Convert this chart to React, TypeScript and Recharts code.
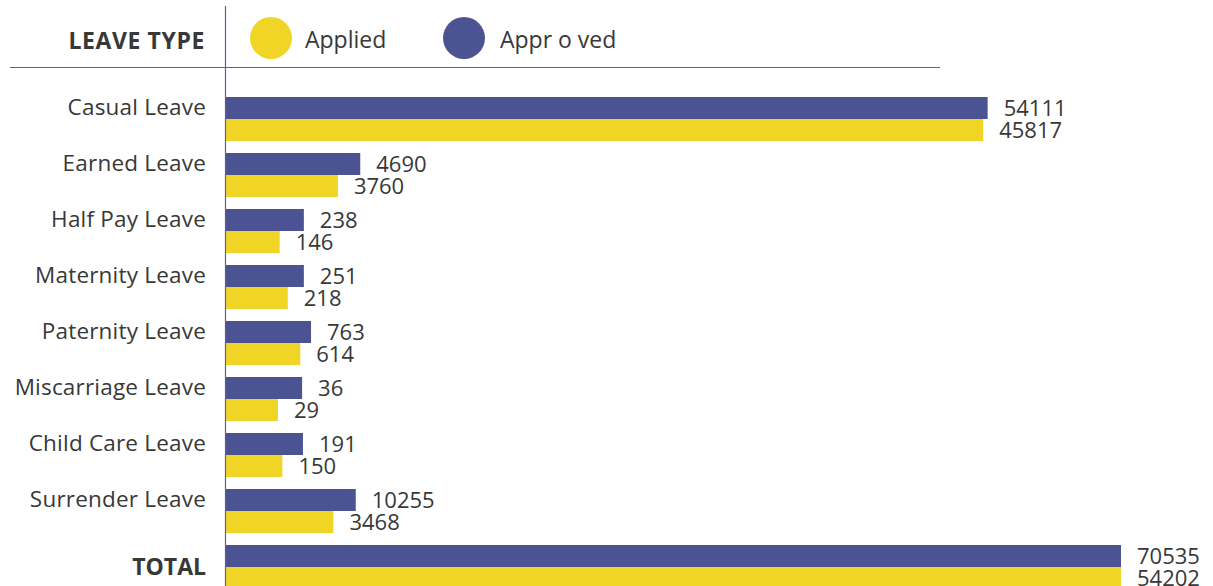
import React from 'react'
import { BarChart, Bar, XAxis, YAxis, LabelList } from 'recharts'

// leave types, top to bottom
const categories = [
    'Casual Leave',
    'Earned Leave',
    'Half Pay Leave',
    'Maternity Leave',
    'Paternity Leave',
    'Miscarriage Leave',
    'Child Care Leave',
    'Surrender Leave',
    'TOTAL',
]

// numbers printed next to the bars
const applied = [45817, 3760, 146, 218, 614, 29, 150, 3468, 54202]
const approved = [54111, 4690, 238, 251, 763, 36, 191, 10255, 70535]

// the original infographic is not drawn to scale, so bar lengths are read
// off the picture separately (% of the TOTAL bar)
const appliedLen = [84.6, 12.5, 6.0, 6.9, 8.3, 5.8, 6.3, 12.0, 100]
const approvedLen = [85.1, 15.0, 8.7, 8.7, 9.5, 8.5, 8.6, 14.5, 100]

const YELLOW = '#F0D426'
const BLUE = '#4C5393'
const TEXT = '#383838'
const LINE = '#5A5FA6'
const FONT = '"Open Sans", sans-serif'

const data = categories.map((name, i) => ({
    name,
    applied: applied[i],
    approved: approved[i],
    appliedLen: appliedLen[i],
    approvedLen: approvedLen[i],
}))

// category label: sits level with the blue bar, TOTAL is centred and bold
const CategoryTick = (props: any) => {
    const { x, y, payload } = props
    const isTotal = payload.value === 'TOTAL'
    return (
        <text
            x={x - 12}
            y={isTotal ? y - 1.5 : y - 13}
            textAnchor="end"
            dominantBaseline="central"
            fontFamily={FONT}
            fontSize={isTotal ? 23 : 22.5}
            fontWeight={isTotal ? 700 : 400}
            letterSpacing={isTotal ? 0 : 0.2}
            fill={TEXT}
        >
            {payload.value}
        </text>
    )
}

// header strip with the legend
const Header = () => (
    <svg
        width={1213}
        height={586}
        style={{ position: 'absolute', left: 0, top: 0, pointerEvents: 'none' }}
    >
        <line x1={225.5} y1={6} x2={225.5} y2={586} stroke={LINE} strokeWidth={1.2} />
        <line x1={10} y1={67.5} x2={940} y2={67.5} stroke={LINE} strokeWidth={1.2} />
        <text
            x={205}
            y={40}
            textAnchor="end"
            dominantBaseline="central"
            fontFamily={FONT}
            fontSize={23}
            fontWeight={700}
            letterSpacing={0.6}
            fill={TEXT}
        >
            LEAVE TYPE
        </text>
        <circle cx={271} cy={38} r={21} fill={YELLOW} />
        <text x={305} y={39} dominantBaseline="central" fontFamily={FONT} fontSize={23} fill={TEXT}>
            Applied
        </text>
        <circle cx={464} cy={38} r={21} fill={BLUE} />
        <text x={500} y={39} dominantBaseline="central" fontFamily={FONT} fontSize={23} fill={TEXT}>
            Appr o ved
        </text>
    </svg>
)

export default function App() {
    return (
        <div
            style={{
                position: 'absolute',
                left: 0,
                top: 0,
                width: 1213,
                height: 586,
                overflow: 'hidden',
                background: '#fff',
            }}
        >
            <BarChart
                width={1213}
                height={595}
                data={data}
                layout="vertical"
                margin={{ top: 91, right: 92, left: 0, bottom: 0 }}
                barGap={0}
            >
                <XAxis type="number" domain={[0, 100]} hide />
                <YAxis
                    type="category"
                    dataKey="name"
                    width={226}
                    axisLine={false}
                    tickLine={false}
                    tick={<CategoryTick />}
                    interval={0}
                />
                <Bar dataKey="approvedLen" fill={BLUE} barSize={22} isAnimationActive={false}>
                    <LabelList
                        dataKey="approved"
                        position="right"
                        offset={16}
                        fill={TEXT}
                        fontSize={22}
                        fontFamily={FONT}
                    />
                </Bar>
                <Bar dataKey="appliedLen" fill={YELLOW} barSize={22} isAnimationActive={false}>
                    <LabelList
                        dataKey="applied"
                        position="right"
                        offset={16}
                        fill={TEXT}
                        fontSize={22}
                        fontFamily={FONT}
                    />
                </Bar>
            </BarChart>
            <Header />
        </div>
    )
}
